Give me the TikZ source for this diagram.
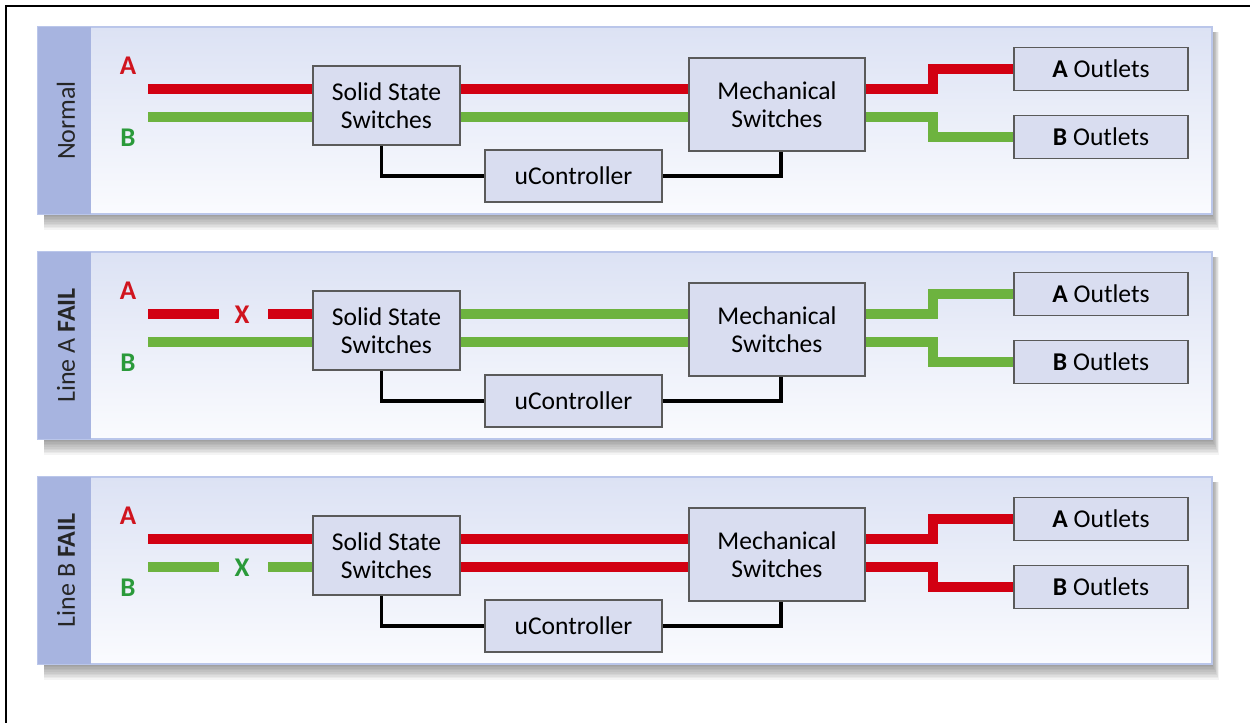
\documentclass[tikz,border=0pt]{standalone}
\usepackage{fontspec}
\setmainfont{Carlito}
\usetikzlibrary{calc}
\definecolor{lred}{HTML}{D20012}
\definecolor{lgreen}{HTML}{6DB33F}
\definecolor{tred}{HTML}{D0141E}
\definecolor{tgreen}{HTML}{2A9A3A}
\definecolor{boxfill}{HTML}{D9DDF0}
\definecolor{boxline}{HTML}{5A5A5A}
\definecolor{strip}{HTML}{A7B4E0}
\definecolor{ptop}{HTML}{DCE2F4}
\definecolor{pbot}{HTML}{FAFBFE}
\definecolor{pborder}{HTML}{BAC6EA}
\pgfdeclarelayer{panel}
\pgfdeclarelayer{wires}
\pgfsetlayers{panel,wires,main}
\tikzset{
  swbox/.style={draw=boxline, fill=boxfill, line width=0.9pt, align=center, inner sep=0pt, font=\fontsize{12.8}{14.2}\selectfont},
  wire/.style={line width=4.6pt, line cap=butt, line join=miter},
  ctrl/.style={draw=black, line width=1.7pt, line join=miter},
  inlbl/.style={font=\fontsize{13.5}{15}\selectfont\bfseries},
  sidelbl/.style={rotate=90, font=\fontsize{13}{14}\selectfont, text=black!85}
}
\newcommand\mypanel[5]{%
\begin{scope}[shift={(0,#2)}]
  \begin{pgfonlayer}{panel}
  \foreach \k in {1,...,10} {\fill[black, opacity=0.045] (44,32) rectangle (1212+0.7*\k, 214+1.6*\k);}
  \shade[top color=ptop, bottom color=pbot, draw=pborder, line width=0.8pt] (38,27) rectangle (1212,214);
  \fill[strip] (38,27) rectangle (91,214);
  \end{pgfonlayer}
  \node[sidelbl] (side#1) at (66,120.5) {#3};
  \node[inlbl, text=tred] (la#1) at (128,66) {A};
  \node[inlbl, text=tgreen] (lb#1) at (128,138) {B};
  \coordinate (inA#1) at (148,89);
  \coordinate (inB#1) at (148,117);
  \node[swbox, minimum width=73.5pt, minimum height=39.5pt] (ss#1) at (386.5,105.5) {Solid State\\Switches};
  \node[swbox, minimum width=88pt, minimum height=46.5pt] (me#1) at (777,104.5) {Mechanical\\Switches};
  \node[swbox, minimum width=88.5pt, minimum height=26pt] (uc#1) at (573.5,176) {uController};
  \node[swbox, minimum width=87pt, minimum height=21.5pt] (ao#1) at (1101,69) {\textbf{A} Outlets};
  \node[swbox, minimum width=87pt, minimum height=21.5pt] (bo#1) at (1101,137) {\textbf{B} Outlets};
  \begin{pgfonlayer}{wires}
  \draw[wire, draw=#4] (ss#1.east |- inA#1) -- (me#1.west |- inA#1);
  \draw[wire, draw=#5] (ss#1.east |- inB#1) -- (me#1.west |- inB#1);
  \draw[wire, draw=#4] (me#1.east |- inA#1) -- ++(67,0) |- (ao#1.west);
  \draw[wire, draw=#5] (me#1.east |- inB#1) -- ++(67,0) |- (bo#1.west);
  \draw[ctrl] ([xshift=-2.5pt]ss#1.south) |- (uc#1.west);
  \draw[ctrl] (uc#1.east) -| ([xshift=2pt]me#1.south);
  \end{pgfonlayer}
\end{scope}}
\begin{document}
\begin{tikzpicture}[x=0.5pt, y=-0.5pt]
\useasboundingbox (0,0) rectangle (1250,723);
\begin{pgfonlayer}{panel}
\fill[white] (0,0) rectangle (1250,723);
\draw[black, line width=1.2pt] (6,723) -- (6,6) -- (1250,6);
\end{pgfonlayer}
% Panel 1: Normal
\mypanel{1}{0}{Normal}{lred}{lgreen}
\begin{pgfonlayer}{wires}
\draw[wire, draw=lred] (inA1) -- (inA1 -| ss1.west);
\draw[wire, draw=lgreen] (inB1) -- (inB1 -| ss1.west);
\end{pgfonlayer}
% Panel 2: Line A fail
\mypanel{2}{225}{Line A \textbf{FAIL}}{lgreen}{lgreen}
\coordinate (ga2) at (219,314);
\coordinate (gb2) at (268,314);
\node[inlbl, text=tred] (x2) at (242,315) {X};
\begin{pgfonlayer}{wires}
\draw[wire, draw=lred] (inA2) -- (ga2);
\draw[wire, draw=lred] (gb2) -- (gb2 -| ss2.west);
\draw[wire, draw=lgreen] (inB2) -- (inB2 -| ss2.west);
\end{pgfonlayer}
% Panel 3: Line B fail
\mypanel{3}{450}{Line B \textbf{FAIL}}{lred}{lred}
\coordinate (ga3) at (219,567);
\coordinate (gb3) at (268,567);
\node[inlbl, text=tgreen] (x3) at (242,568) {X};
\begin{pgfonlayer}{wires}
\draw[wire, draw=lred] (inA3) -- (inA3 -| ss3.west);
\draw[wire, draw=lgreen] (inB3) -- (ga3);
\draw[wire, draw=lgreen] (gb3) -- (gb3 -| ss3.west);
\end{pgfonlayer}
\end{tikzpicture}
\end{document}
